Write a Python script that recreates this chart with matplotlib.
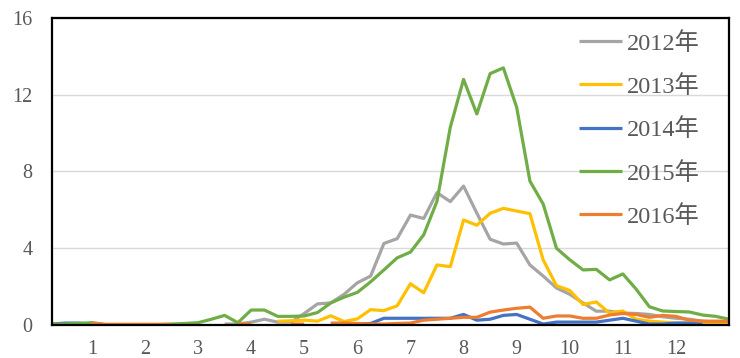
import numpy as np
import matplotlib
matplotlib.use("Agg")
from matplotlib import pyplot as plt

nan = np.nan

# weekly values, 52 weeks; nan = no data
weeks = np.arange(52)
y2012 = [nan]*13 + [0.05, 0.05, 0.15, 0.3, 0.15, 0.15, 0.6, 1.1, 1.15, 1.6, 2.2,
                    2.55, 4.25, 4.5, 5.73, 5.55, 6.9, 6.43, 7.24, 5.83, 4.47, 4.22, 4.27,
                    3.13, 2.55, 1.93, 1.6, 1.15, 0.72, 0.72, 0.62, 0.6, 0.55, 0.43, 0.35,
                    0.3, 0.2, 0.15, 0.1]
y2013 = [nan]*10 + [0.03, 0.03] + [nan]*5 + [0.2, 0.22, 0.25, 0.2, 0.48, 0.18, 0.32,
                    0.8, 0.75, 1.0, 2.15, 1.68, 3.13, 3.04, 5.47, 5.2, 5.82, 6.08, 5.94,
                    5.8, 3.39, 2.05, 1.8, 1.07, 1.2, 0.62, 0.73, 0.3, 0.2, 0.15, 0.1,
                    0.1, 0.05, 0.05, 0.05]
y2014 = [0.05, 0.1, 0.1, 0.05] + [nan]*17 + [0.05, 0.05, 0.05, 0.08, 0.35, 0.35, 0.35,
                    0.35, 0.35, 0.35, 0.55, 0.25, 0.3, 0.5, 0.55, 0.3, 0.05, 0.15, 0.15,
                    0.15, 0.15, 0.25, 0.35, 0.2, 0.05, 0.05, 0.1, 0.1, 0.05, nan, nan]
y2015 = [0.05, 0.05, 0.08, 0.12, 0.03, 0.03, 0.03, 0.03, 0.03, 0.05, 0.08, 0.12, 0.3,
         0.5, 0.12, 0.78, 0.78, 0.45, 0.45, 0.47, 0.65, 1.15, 1.45, 1.7, 2.25, 2.87,
         3.5, 3.8, 4.7, 6.45, 10.3, 12.8, 11.0, 13.1, 13.4, 11.35, 7.5, 6.3, 4.0, 3.4,
         2.87, 2.9, 2.35, 2.66, 1.87, 0.95, 0.73, 0.7, 0.68, 0.52, 0.45, 0.3]
y2016 = [nan]*3 + [0.1, 0.03, 0.03, 0.03, 0.03, 0.03, 0.03] + [nan]*4 + [0.05, 0.05,
         nan, nan, 0.05, 0.05, nan, 0.1, 0.1, 0.08, 0.05, 0.05, 0.08, 0.1, 0.25, 0.3,
         0.35, 0.4, 0.4, 0.67, 0.78, 0.87, 0.93, 0.35, 0.47, 0.47, 0.35, 0.35, 0.52,
         0.6, 0.55, 0.4, 0.5, 0.45, 0.25, 0.2, 0.2, 0.2]

series = [("2012年", y2012, "#A5A5A5"),
          ("2013年", y2013, "#FFC000"),
          ("2014年", y2014, "#4472C4"),
          ("2015年", y2015, "#70AD47"),
          ("2016年", y2016, "#ED7D31")]

month_pos = [3, 7, 11, 15, 19, 23, 27, 31, 35, 39, 43, 47]
month_lbl = [str(m) for m in range(1, 13)]

plt.rcParams['font.family'] = ['Liberation Serif', 'Noto Sans CJK JP']

fig = plt.figure(figsize=(7.4, 3.58), dpi=100)
ax = fig.add_axes([0.0703, 0.0922, 0.9149, 0.8575])

for name, vals, col in series:
    ax.plot(weeks, vals, color=col, lw=2.3, label=name, solid_joinstyle='round',
            solid_capstyle='butt')

ax.set_xlim(0, 51)
ax.set_ylim(0, 16)
ax.set_yticks([0, 4, 8, 12, 16])
ax.set_xticks(month_pos)
ax.set_xticklabels(month_lbl)
ax.tick_params(length=0, labelsize=14.5, labelcolor='#595959')
ax.tick_params(axis='y', pad=14)
ax.tick_params(axis='x', pad=11)
ax.grid(axis='y', color='#D9D9D9', lw=1)
ax.set_axisbelow(True)
for s in ax.spines.values():
    s.set_color('black')
    s.set_linewidth(1.6)

leg = ax.legend(loc='upper left', bbox_to_anchor=(0.778, 0.955), frameon=False,
                fontsize=17.5, handlelength=1.8, handletextpad=0.18,
                labelspacing=0.84, borderpad=0, borderaxespad=0)
for t in leg.get_texts():
    t.set_color('#595959')

fig.savefig("out.png", dpi=100)
